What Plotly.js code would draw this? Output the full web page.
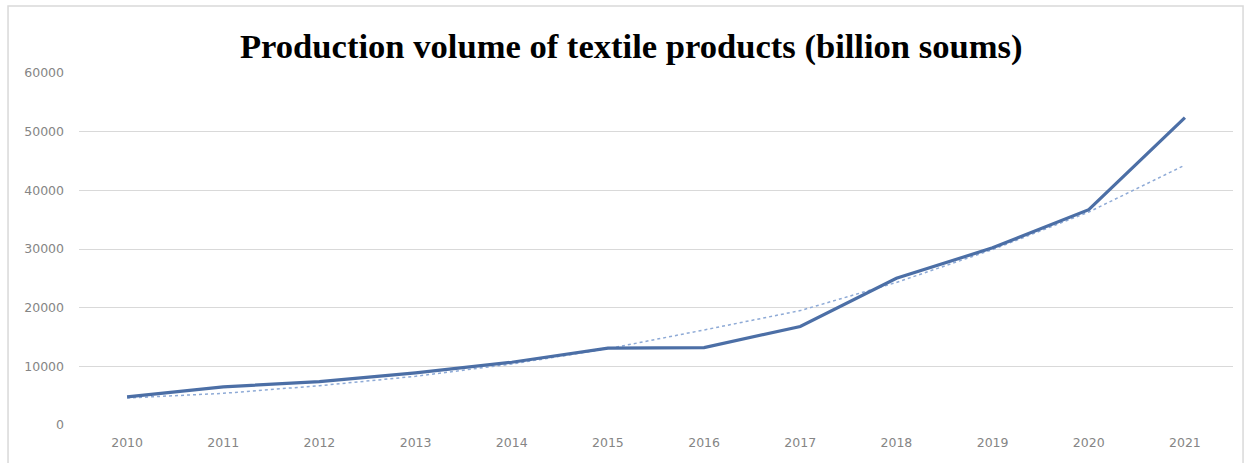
<!DOCTYPE html>
<html>
<head>
<meta charset="utf-8">
<script src="https://cdn.plot.ly/plotly-3.0.1.min.js"></script>
<style>html,body{margin:0;padding:0;background:#fff;}#chart{width:1250px;height:463px;}</style>
</head>
<body>
<div id="chart"></div>
<script>
const years = ['2010','2011','2012','2013','2014','2015','2016','2017','2018','2019','2020','2021'];
const production = [4800, 6500, 7400, 8900, 10700, 13100, 13200, 16800, 25000, 30200, 36700, 52400];
const trend = [4600, 5400, 6700, 8300, 10400, 13000, 16200, 19500, 24300, 29900, 36300, 44300];
const yTicks = [0, 10000, 20000, 30000, 40000, 50000, 60000];

const data = [
  {x: years, y: trend, type: 'scatter', mode: 'lines',
   line: {color: '#8eaad6', width: 1.5, dash: 'dot'}, hoverinfo: 'skip'},
  {x: years, y: production, type: 'scatter', mode: 'lines',
   line: {color: '#4c6fa6', width: 3.2}}
];

const tickFont = {family: 'DejaVu Sans, sans-serif', size: 12.5, color: '#858585'};

const layout = {
  width: 1250, height: 463,
  margin: {l: 79, r: 17, t: 73, b: 38},
  paper_bgcolor: '#ffffff', plot_bgcolor: '#ffffff',
  showlegend: false,
  title: {text: '<b>Production volume of textile products (billion soums)</b>',
          font: {family: 'Liberation Serif, Times New Roman, serif', size: 34.6, color: '#000'},
          x: 0.505, xanchor: 'center', y: 0.9, yanchor: 'middle', yref: 'container'},
  xaxis: {type: 'category', range: [-0.5, 11.5], showgrid: false, zeroline: false, showline: false,
          ticks: '', ticklabelstandoff: 8, tickfont: tickFont},
  yaxis: {range: [0, 60000], tickvals: yTicks, ticktext: yTicks.map(String),
          showgrid: true, gridcolor: '#d9d9d9', gridwidth: 1, zeroline: false, showline: false,
          ticks: '', ticklabelstandoff: 14, tickfont: tickFont},
  shapes: [
    {type: 'rect', xref: 'paper', yref: 'paper', x0: -0.0615, x1: 1.0087, y0: -0.3, y1: 1.19,
     line: {color: '#d9d9d9', width: 1.5}, fillcolor: 'rgba(0,0,0,0)', layer: 'below'}
  ]
};

Plotly.newPlot('chart', data, layout, {displayModeBar: false, staticPlot: true});
</script>
</body>
</html>
